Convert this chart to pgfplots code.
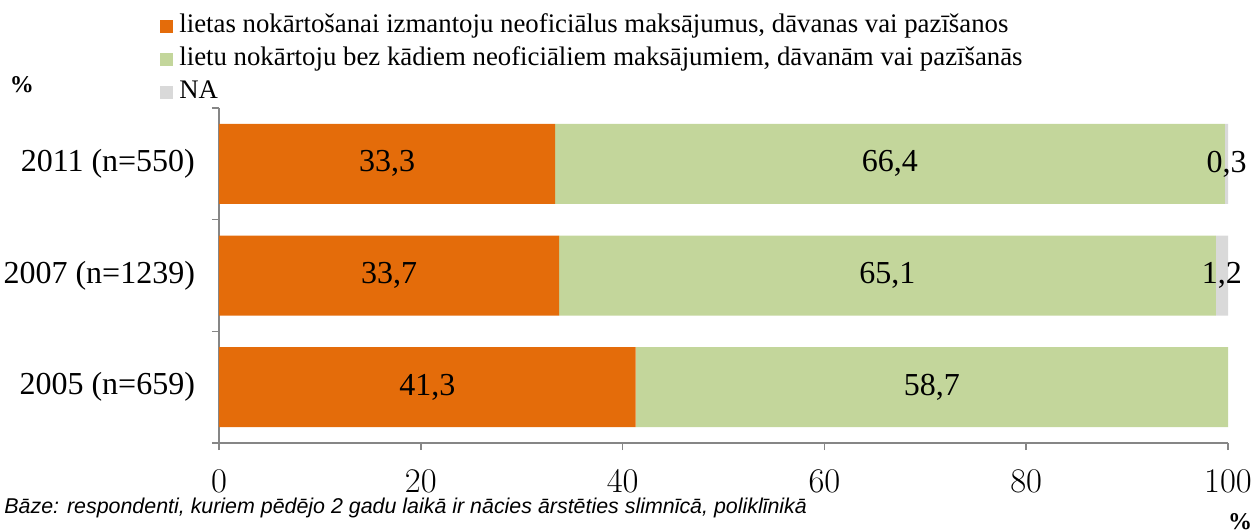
\documentclass[border=0pt]{standalone}
\usepackage{pgfplots}
\pgfplotsset{compat=1.18}
\usepackage{pgfplotstable}
\usepackage{fontspec}
\setmainfont{Liberation Serif}
\newfontfamily\arialfont{Liberation Sans}

\definecolor{cOrange}{HTML}{E46C0A}
\definecolor{cGreen}{HTML}{C3D69B}
\definecolor{cNA}{HTML}{D9D9D9}
\definecolor{cAxis}{HTML}{868686}

% y: 0 = 2005, 1 = 2007, 2 = 2011
\pgfplotstableread{
y org ok na lorg lok lna
0 41.3 58.7 0.0 41,3 58,7 {}
1 33.7 65.1 1.2 33,7 65,1 1,2
2 33.3 66.4 0.3 33,3 66,4 0,3
}\survey

\begin{document}
\begin{tikzpicture}
\path[use as bounding box] (0,0) rectangle (628.5pt,265pt);
\begin{axis}[
    at={(109.5pt,43.5pt)}, anchor=south west,
    scale only axis,
    width=504.5pt, height=167.5pt,
    xbar stacked,
    bar width=40pt,
    xmin=0, xmax=100,
    ymin=-0.5, ymax=2.5,
    xtick={0,20,40,60,80,100},
    ytick={0,1,2},
    yticklabels={2005 (n=659),2007 (n=1239),2011 (n=550)},
    minor ytick={-0.5,0.5,1.5,2.5},
    major y tick style={draw=none},
    minor tick length=3.5pt,
    major tick length=3.5pt,
    tick align=outside,
    axis x line*=bottom,
    axis y line*=left,
    axis line style={cAxis, line width=0.8pt},
    tick style={cAxis, line width=0.8pt},
    ticklabel style={font=\fontsize{16}{19}\selectfont},
    xticklabel style={yshift=-6.5pt},
    yticklabel style={xshift=-5pt},
    point meta=explicit symbolic,
    nodes near coords,
    every node near coord/.append style={
        anchor=center, font=\fontsize{16}{19}\selectfont, text=black},
    legend style={
        at={(-0.0585,1.288)}, anchor=north west,
        draw=none, fill=none, inner sep=0pt,
        font=\fontsize{13.4}{15}\selectfont,
        nodes={inner sep=1pt, inner xsep=3pt, text height=9.5pt, text depth=3pt},
        row sep=2pt,
        legend cell align=left},
    legend image code/.code={\fill[#1] (0pt,-3.3pt) rectangle (6.5pt,3.3pt);},
    clip=false,
]
\addplot[fill=cOrange, draw=none] table[x=org, y=y, meta=lorg] {\survey};
\addplot[fill=cGreen, draw=none] table[x=ok, y=y, meta=lok] {\survey};
\addplot[fill=cNA, draw=none] table[x=na, y=y, meta=lna] {\survey};
\legend{{lietas nokārtošanai izmantoju neoficiālus maksājumus, dāvanas vai pazīšanos},
        {lietu nokārtoju bez kādiem neoficiāliem maksājumiem, dāvanām vai pazīšanās},
        NA}
\end{axis}
\node[font=\bfseries\fontsize{12}{14}\selectfont] at (11pt,222.5pt) {\%};
\node[font=\bfseries\fontsize{12}{14}\selectfont] at (620pt,4pt) {\%};
\node[anchor=west, inner sep=0pt, font=\arialfont\itshape\fontsize{10.7}{12}\selectfont]
    at (2pt,11pt) {Bāze: respondenti, kuriem pēdējo 2 gadu laikā ir nācies ārstēties slimnīcā, poliklīnikā};
\end{tikzpicture}
\end{document}
